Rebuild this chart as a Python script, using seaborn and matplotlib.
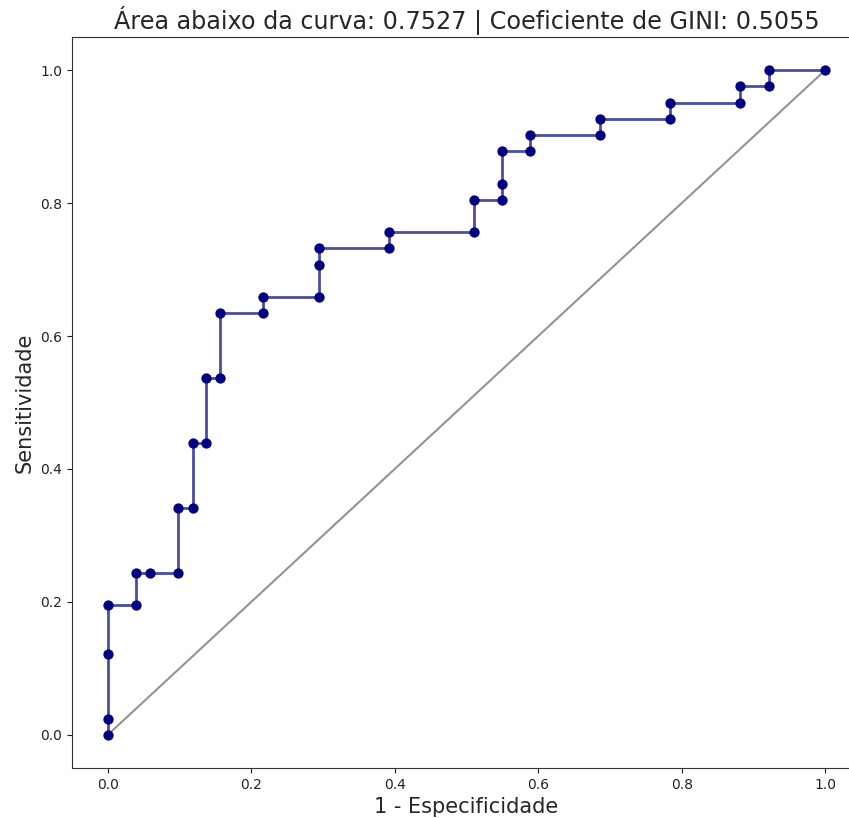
import numpy as np
import pandas as pd
import matplotlib
matplotlib.use("Agg")
import matplotlib.pyplot as plt
import seaborn as sns

# ROC points (1 - especificidade, sensitividade)
fpr = [0.0, 0.0, 0.0, 0.0, 0.039, 0.039, 0.059, 0.098, 0.098, 0.118, 0.118,
       0.137, 0.137, 0.157, 0.157, 0.216, 0.216, 0.294, 0.294, 0.294, 0.392,
       0.392, 0.510, 0.510, 0.549, 0.549, 0.549, 0.588, 0.588, 0.686, 0.686,
       0.784, 0.784, 0.882, 0.882, 0.922, 0.922, 1.0]
tpr = [0.0, 0.024, 0.122, 0.195, 0.195, 0.244, 0.244, 0.244, 0.341, 0.341,
       0.439, 0.439, 0.537, 0.537, 0.634, 0.634, 0.659, 0.659, 0.707, 0.732,
       0.732, 0.756, 0.756, 0.805, 0.805, 0.829, 0.878, 0.878, 0.902, 0.902,
       0.927, 0.927, 0.951, 0.951, 0.976, 0.976, 1.0, 1.0]
diag = [0.0, 1.0]

auc_txt = "0.7527"
gini_txt = "0.5055"

sns.set_style("white")
plt.rcParams['font.family'] = ['DejaVu Sans']

fig = plt.figure(figsize=(8.49, 8.18), dpi=100)
# axes runs past the right edge, as in the cropped original
ax = fig.add_axes([72 / 849, 50 / 818, 789 / 849, 731 / 818])

roc = pd.DataFrame({'fpr': fpr, 'tpr': tpr})
sns.lineplot(x=diag, y=diag, color='gray', alpha=0.85, linewidth=1.5, ax=ax)
sns.lineplot(data=roc, x='fpr', y='tpr', sort=False, estimator=None,
             color='navy', alpha=0.7, linewidth=2, ax=ax)
sns.scatterplot(data=roc, x='fpr', y='tpr', color='navy', s=55,
                edgecolor='navy', linewidth=0, zorder=3, ax=ax)

ax.set_xlim(-0.05, 1.05)
ax.set_ylim(-0.05, 1.05)
ax.set_xticks([0.0, 0.2, 0.4, 0.6, 0.8, 1.0])
ax.set_yticks([0.0, 0.2, 0.4, 0.6, 0.8, 1.0])
ax.tick_params(axis='both', which='both', length=3.5, width=0.8,
               labelsize=10, direction='out', bottom=True, left=True,
               colors='#222222')
for s in ax.spines.values():
    s.set_color('#333333')
    s.set_linewidth(0.8)
ax.spines['right'].set_visible(False)

ax.set_title(f"Área abaixo da curva: {auc_txt} | Coeficiente de GINI: {gini_txt}",
             fontsize=17.2)
ax.set_xlabel("1 - Especificidade", fontsize=15)
ax.set_ylabel("Sensitividade", fontsize=15)

fig.savefig("out.png", dpi=100)
